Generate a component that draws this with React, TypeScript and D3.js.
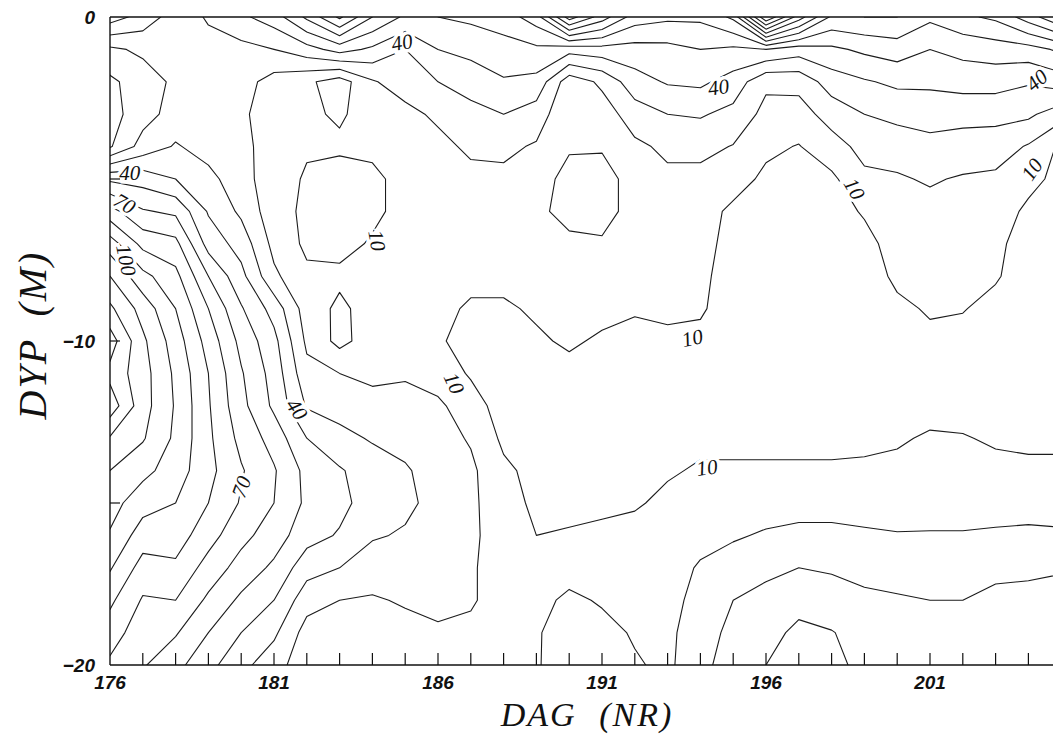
import React, { useEffect, useRef } from 'react';
import * as d3 from 'd3';

// grid positions: one column per day, one row per metre of depth
const days = [176, 177, 178, 179, 180, 181, 182, 183, 184, 185, 186, 187, 188, 189, 190,
  191, 192, 193, 194, 195, 196, 197, 198, 199, 200, 201, 202, 203, 204, 205];
const depths = [0, 1, 2, 3, 4, 5, 6, 7, 8, 9, 10, 11, 12, 13, 14, 15, 16, 17, 18, 19, 20];

// depth profiles (0 m .. 20 m)
const day176 = [45, 18, 8, 6, 9, 48, 74, 95, 110, 122, 135, 127, 136, 119, 110, 104, 99, 91, 82, 75, 68];
const day177 = [36, 22, 15, 16, 24, 46, 61, 77, 93, 106, 112, 114, 114, 111, 103, 94, 85, 76, 69, 64, 61];
const day178 = [25, 24, 22, 24, 31, 40, 58, 73, 83, 90, 95, 98, 99, 98, 95, 90, 85, 78, 70, 61, 53];
const day179 = [31, 27, 25, 25, 26, 33, 39, 46, 60, 70, 76, 80, 81, 82, 83, 80, 74, 66, 58, 50, 43];
const day180 = [38, 27, 24, 22, 23, 24, 28, 36, 43, 51, 57, 61, 63, 67, 71, 69, 63, 56, 48, 40, 33];
const day181 = [45, 30, 16, 14, 15, 14, 14, 17, 22, 36, 43, 46, 48, 56, 61, 60, 55, 48, 40, 32, 24];
const day182 = [62, 36, 12, 12, 11, 9, 8, 8, 12, 15, 18, 23, 29, 40, 47, 48, 44, 34, 24, 16, 14];
const day183 = [82, 44, 5, 8.5, 12, 5, 6, 7, 12, 8, 7, 20, 26, 33, 41, 43, 39, 30, 20, 15, 13];
const day184 = [60, 38, 19, 15, 12, 8, 8, 11, 13, 14, 15, 18, 23, 29, 35, 35, 31, 25, 19, 15, 13];
const day185 = [48, 30, 25, 17, 14, 13, 13, 14, 14, 15, 16, 19, 23, 27, 31, 32, 29, 25, 21, 17, 15];
const day186 = [50, 40, 30, 22, 17, 15, 14, 14, 13, 12, 11, 15, 22, 24, 26, 27, 26, 24, 22, 19, 15];
const day187 = [52, 43, 34, 27, 22, 17, 14, 13, 12, 9, 7, 9, 14, 19, 22, 22, 22, 21, 21, 18, 14];
const day188 = [55, 46, 39, 30, 22, 18, 15, 14, 12, 9, 6, 5, 6, 8, 12, 14, 15, 16, 16, 15, 13];
const day189 = [65, 48, 37, 25, 19, 14, 12, 13, 12, 11, 9, 6, 5, 6, 7, 8, 10, 13, 17, 19, 19];
const day190 = [105, 44, 14, 12, 11, 7, 7, 12, 13, 12, 11, 8, 5, 4, 5, 7, 11, 16, 22, 25, 26];
const day191 = [85, 46, 22, 15, 11, 6, 7, 11, 13, 12, 9, 6, 4, 4, 5, 8, 12, 17, 19, 23, 24];
const day192 = [65, 46, 36, 25, 18, 14, 13, 13, 13, 11, 7, 5, 4, 5, 7, 9, 13, 15, 17, 19, 21];
const day193 = [62, 47, 41, 30, 22, 18, 14, 13, 12, 11, 9, 6, 5, 7, 9, 12, 14, 16, 17, 18, 18];
const day194 = [62, 50, 42, 31, 23, 17, 14, 13, 12, 11, 8, 6, 6, 8, 11, 14, 17, 21, 23, 25, 27];
const day195 = [72, 48, 36, 27, 19.5, 14, 8, 7, 6, 6, 6, 5, 6, 8, 11, 15, 19, 24, 30, 33, 35];
const day196 = [130, 50, 22, 17, 12, 8, 7, 6, 5, 5, 5, 5, 6, 8, 11, 16, 21, 27, 34, 37, 40];
const day197 = [95, 45, 23, 16, 9.5, 7, 6, 5, 5, 5, 5, 5, 6, 8, 11, 17, 22, 30, 37, 42, 44];
const day198 = [68, 48, 35, 24, 16, 8, 6, 5, 5, 5, 5, 5, 6, 8, 11, 17, 22, 29, 34, 40.5, 42];
const day199 = [70, 52, 39, 30, 23, 18, 11, 7, 5, 5, 5, 5, 6, 8, 11.5, 17, 21, 27, 32, 36, 38];
const day200 = [70, 55, 42, 33, 24, 19, 16, 14, 12, 8, 6, 6, 7, 9, 12, 16, 20.5, 26, 31, 34, 36];
const day201 = [62, 50, 42, 34, 27, 21, 17, 15, 13, 11, 8, 6, 7, 11, 13, 17, 20.5, 25, 30, 33, 35];
const day202 = [68, 53, 44, 33, 26, 19, 16, 14, 12, 10.5, 7, 5, 7, 10.5, 13, 17, 20.5, 26, 30, 34, 36];
const day203 = [72, 55, 44, 33, 25, 18, 15, 12, 11, 7, 5, 5, 6, 9, 12, 17, 21, 28, 32, 35, 37];
const day204 = [85, 56, 41, 32, 19, 13, 8, 6, 5, 5, 5, 5, 6, 8, 12, 17, 21.5, 28, 33, 37, 39];
const day205 = [100, 62, 45, 24, 8, 7, 6, 5, 5, 5, 5, 5, 6, 8, 12, 17, 21, 29, 34, 38, 40];

const profiles = [day176, day177, day178, day179, day180, day181, day182, day183, day184, day185,
  day186, day187, day188, day189, day190, day191, day192, day193, day194, day195,
  day196, day197, day198, day199, day200, day201, day202, day203, day204, day205];

const levels = [10, 20, 30, 40, 50, 60, 70, 80, 90, 100, 110, 120, 130];

const xTickLabels = [176, 181, 186, 191, 196, 201];
const yTicks = [0, -5, -10, -15, -20];
const yTickLabels = [0, -10, -20];

// inline contour labels: value, position (day, depth) and text angle
const contourLabels = [
  { text: '40', day: 176.6, depth: 4.8, angle: 0 },
  { text: '70', day: 176.45, depth: 5.75, angle: 30 },
  { text: '100', day: 176.5, depth: 7.5, angle: 78 },
  { text: '40', day: 184.9, depth: 0.78, angle: -10 },
  { text: '40', day: 194.55, depth: 2.16, angle: -8 },
  { text: '40', day: 204.25, depth: 1.95, angle: -40 },
  { text: '10', day: 184.15, depth: 6.9, angle: 80 },
  { text: '10', day: 186.5, depth: 11.3, angle: 65 },
  { text: '10', day: 193.75, depth: 9.9, angle: -12 },
  { text: '10', day: 198.7, depth: 5.3, angle: 60 },
  { text: '10', day: 204.1, depth: 4.7, angle: -55 },
  { text: '10', day: 194.2, depth: 13.9, angle: -8 },
  { text: '40', day: 181.7, depth: 12.1, angle: 55 },
  { text: '70', day: 180.0, depth: 14.5, angle: -70 },
];

const App = () => {
  const ref = useRef<SVGSVGElement>(null);

  useEffect(() => {
    document.body.style.margin = '0';
    const svg = d3.select(ref.current);
    svg.selectAll('*').remove();

    const x = d3.scaleLinear().domain([176, 205]).range([110, 110 + 29 * 32.8]);
    const y = d3.scaleLinear().domain([0, -20]).range([17, 665]);

    const nx = days.length;
    const ny = depths.length;
    const values: number[] = new Array(nx * ny);
    for (let j = 0; j < ny; j++) {
      for (let i = 0; i < nx; i++) values[j * nx + i] = profiles[i][j];
    }

    const contours = d3.contours().size([nx, ny]).thresholds(levels)(values);

    // grid units -> pixels (sample i sits at i + 0.5)
    const toPixels = d3.geoTransform({
      point(gx: number, gy: number) {
        this.stream.point(x(days[0] + gx - 0.5), y(-(depths[0] + gy - 0.5)));
      },
    });
    const path = d3.geoPath(toPixels);

    svg.append('rect').attr('width', 1053).attr('height', 736).attr('fill', '#fff');

    svg
      .append('clipPath')
      .attr('id', 'plot-clip')
      .append('rect')
      .attr('x', x(176))
      .attr('y', y(0))
      .attr('width', x(205) - x(176))
      .attr('height', y(-20) - y(0));

    svg
      .append('g')
      .attr('clip-path', 'url(#plot-clip)')
      .selectAll('path')
      .data(contours)
      .join('path')
      .attr('d', d => path(d as any))
      .attr('fill', 'none')
      .attr('stroke', '#1c1c1c')
      .attr('stroke-width', 1.1)
      .attr('stroke-linejoin', 'round');

    // labels on the lines
    svg
      .append('g')
      .selectAll('text')
      .data(contourLabels)
      .join('text')
      .attr('transform', d => `translate(${x(d.day)},${y(-d.depth)}) rotate(${d.angle})`)
      .attr('text-anchor', 'middle')
      .attr('dy', '0.35em')
      .attr('fill', '#111')
      .attr('stroke', '#fff')
      .attr('stroke-width', 7)
      .attr('paint-order', 'stroke')
      .style('font-family', '"Liberation Serif", "DejaVu Serif", serif')
      .style('font-style', 'italic')
      .style('font-size', '21px')
      .text(d => d.text);

    // frame
    const frame = svg.append('g').attr('stroke', '#111').attr('stroke-width', 1.4);
    frame.append('line').attr('x1', x(176)).attr('x2', 1053).attr('y1', y(0)).attr('y2', y(0));
    frame.append('line').attr('x1', x(176)).attr('x2', 1053).attr('y1', y(-20)).attr('y2', y(-20));
    frame.append('line').attr('x1', x(176)).attr('x2', x(176)).attr('y1', y(0)).attr('y2', y(-20));

    // day ticks
    svg
      .append('g')
      .selectAll('line')
      .data(days.filter(d => d > 176))
      .join('line')
      .attr('x1', d => x(d))
      .attr('x2', d => x(d))
      .attr('y1', y(-20))
      .attr('y2', y(-20) - 12)
      .attr('stroke', '#111')
      .attr('stroke-width', 1.2);

    svg
      .append('g')
      .selectAll('text')
      .data(xTickLabels)
      .join('text')
      .attr('x', d => x(d))
      .attr('y', 689)
      .attr('text-anchor', 'middle')
      .attr('fill', '#111')
      .style('font-family', '"Liberation Sans", Arial, sans-serif')
      .style('font-weight', 'bold')
      .style('font-style', 'italic')
      .style('font-size', '19px')
      .text(d => String(d));

    // depth ticks
    svg
      .append('g')
      .selectAll('line')
      .data(yTicks.filter(d => d !== 0 && d !== -20))
      .join('line')
      .attr('x1', x(176))
      .attr('x2', x(176) + 10)
      .attr('y1', d => y(d))
      .attr('y2', d => y(d))
      .attr('stroke', '#111')
      .attr('stroke-width', 1.2);

    svg
      .append('g')
      .selectAll('text')
      .data(yTickLabels)
      .join('text')
      .attr('x', 95)
      .attr('y', d => y(d) + 7)
      .attr('text-anchor', 'end')
      .attr('fill', '#111')
      .style('font-family', '"Liberation Sans", Arial, sans-serif')
      .style('font-weight', 'bold')
      .style('font-style', 'italic')
      .style('font-size', '19px')
      .text(d => (d < 0 ? '\u2212' + Math.abs(d) : String(d)));

    // axis titles
    svg
      .append('text')
      .attr('x', 587)
      .attr('y', 726)
      .attr('text-anchor', 'middle')
      .attr('fill', '#111')
      .style('font-family', '"Liberation Serif", serif')
      .style('font-style', 'italic')
      .style('font-size', '34px')
      .style('letter-spacing', '2px')
      .style('word-spacing', '12px')
      .text('DAG (NR)');

    svg
      .append('text')
      .attr('transform', `translate(46,${y(-10) - 6}) rotate(-90)`)
      .attr('text-anchor', 'middle')
      .attr('fill', '#111')
      .style('font-family', '"Liberation Serif", serif')
      .style('font-style', 'italic')
      .style('font-size', '40px')
      .style('letter-spacing', '2px')
      .style('word-spacing', '10px')
      .text('DYP (M)');
  }, []);

  return <svg ref={ref} width={1053} height={736} style={{ display: 'block' }} />;
};

export default App;
